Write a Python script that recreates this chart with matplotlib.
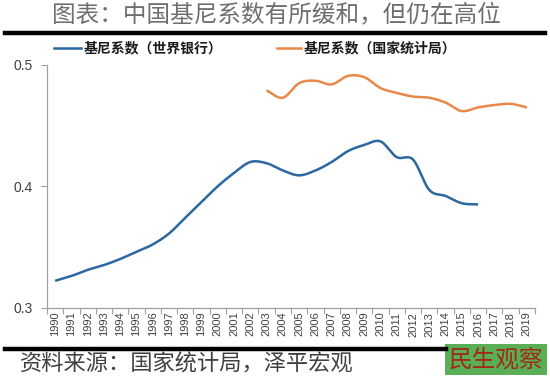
import numpy as np
import matplotlib
matplotlib.use("Agg")
import matplotlib.pyplot as plt
from matplotlib.lines import Line2D
from matplotlib.patches import Rectangle

plt.rcParams['font.family'] = ['Noto Sans CJK SC', 'DejaVu Sans']

years = list(range(1990, 2020))
wb_years = list(range(1990, 2017))
wb_gini = [0.322, 0.326, 0.331, 0.335, 0.340, 0.346, 0.352, 0.361, 0.374, 0.387,
           0.400, 0.411, 0.420, 0.419, 0.413, 0.409, 0.413, 0.420, 0.429, 0.434,
           0.437, 0.424, 0.422, 0.397, 0.392, 0.386, 0.385]
nbs_years = list(range(2003, 2020))
nbs_gini = [0.479, 0.473, 0.485, 0.487, 0.484, 0.491, 0.490, 0.481, 0.477, 0.474,
            0.473, 0.469, 0.462, 0.465, 0.467, 0.468, 0.465]
yticks = [0.3, 0.4, 0.5]
title = "图表：中国基尼系数有所缓和，但仍在高位"
legend_labels = ["基尼系数（世界银行）", "基尼系数（国家统计局）"]
source = "资料来源：国家统计局，泽平宏观"
badge = "民生观察"

def smooth(xs, ys, n=20):
    # Catmull-Rom style smoothing (as in Excel smoothed lines)
    xs = np.asarray(xs, float); ys = np.asarray(ys, float)
    px = np.concatenate([[2*xs[0]-xs[1]], xs, [2*xs[-1]-xs[-2]]])
    py = np.concatenate([[2*ys[0]-ys[1]], ys, [2*ys[-1]-ys[-2]]])
    ox, oy = [], []
    for i in range(1, len(px)-2):
        p0, p1, p2, p3 = (np.array([px[j], py[j]]) for j in (i-1, i, i+1, i+2))
        c1 = p1 + (p2 - p0)/6
        c2 = p2 - (p3 - p1)/6
        t = np.linspace(0, 1, n, endpoint=(i == len(px)-3))[:, None]
        b = (1-t)**3*p1 + 3*(1-t)**2*t*c1 + 3*(1-t)*t**2*c2 + t**3*p2
        ox.extend(b[:, 0]); oy.extend(b[:, 1])
    return np.array(ox), np.array(oy)

fig = plt.figure(figsize=(5.5, 3.8), dpi=100)
ax = fig.add_axes([47/550, (380-307.5)/380, (535-47)/550, (307.5-65)/380])

idx = {y: i for i, y in enumerate(years)}
blue = '#2b67a0'
orange = '#e8894a'
bx, by = smooth([idx[y] for y in wb_years], wb_gini)
ox_, oy_ = smooth([idx[y] for y in nbs_years], nbs_gini)
ax.plot(bx, by, color=blue, lw=1.8, solid_capstyle='butt')
ax.plot(ox_, oy_, color=orange, lw=1.8, solid_capstyle='butt')

ax.set_xlim(-0.5, len(years)-0.5)
ax.set_ylim(0.3, 0.5)
ax.set_yticks(yticks)
ax.set_yticklabels([f"{v:.1f}" for v in yticks], fontsize=10, color='#404040',
                   family=['Liberation Sans', 'DejaVu Sans'])
ax.set_xticks(range(len(years)))
ax.set_xticklabels([str(y) for y in years], rotation=90, fontsize=8, color='#404040',
                   family=['Liberation Sans', 'DejaVu Sans'])
ax.set_xticks(np.arange(-0.5, len(years), 1), minor=True)
ax.tick_params(axis='x', which='major', length=0, pad=3)
ax.tick_params(axis='x', which='minor', length=4, color='#a0a0a0', width=0.8)
ax.tick_params(axis='y', length=4, color='#a0a0a0', width=0.8, pad=6)
for s in ['top', 'right']:
    ax.spines[s].set_visible(False)
for s in ['left', 'bottom']:
    ax.spines[s].set_color('#a0a0a0')
    ax.spines[s].set_linewidth(0.9)

# title
fig.text(276/550, 1-16/380, title, ha='center', va='center', fontsize=17, color='#6e6e6e')
fig.add_artist(Line2D([5/550, 545/550], [1-33/380, 1-33/380], color='black', lw=3.2))

# legend
ly = 1-48/380
fig.add_artist(Line2D([54/550, 81/550], [ly, ly], color=blue, lw=1.8))
fig.text(84/550, ly, legend_labels[0], ha='left', va='center', fontsize=10, fontweight='bold', color='#1a1a1a')
fig.add_artist(Line2D([277/550, 301/550], [ly, ly], color=orange, lw=1.8))
fig.text(304/550, ly, legend_labels[1], ha='left', va='center', fontsize=10, fontweight='bold', color='#1a1a1a')

# bottom line and source
fig.add_artist(Line2D([5/550, 446/550], [1-349/380, 1-349/380], color='black', lw=3.2))
fig.text(20/550, 1-364/380, source, ha='left', va='center', fontsize=16, color='#404040', style='italic')

# badge
fig.add_artist(Rectangle((445/550, 1-375/380), 102/550, 31/380, transform=fig.transFigure,
                         facecolor='#5aae55', edgecolor='none'))
fig.text(496/550, 1-360/380, badge, ha='center', va='center', fontsize=17, color='#a0281c')

fig.savefig('out.png', dpi=100)
